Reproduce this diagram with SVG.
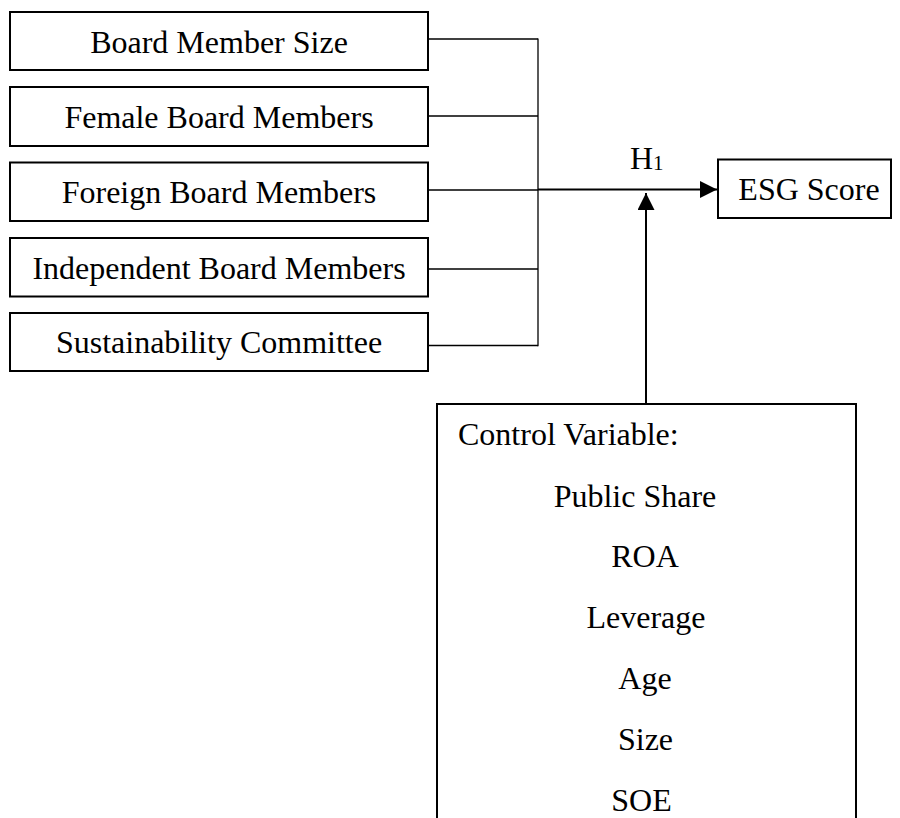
<svg xmlns="http://www.w3.org/2000/svg" width="900" height="818" viewBox="0 0 900 818">
<style>
  .box { fill: #ffffff; stroke: #000000; stroke-width: 2; }
  .thin { stroke: #000000; stroke-width: 1.3; fill: none; }
  .thick { stroke: #000000; stroke-width: 2; fill: none; }
</style>
<defs>
  <marker id="arrow" markerWidth="8.5" markerHeight="8.5" refX="8.5" refY="4.25" orient="auto" markerUnits="strokeWidth">
    <path d="M0,0 L8.5,4.25 L0,8.5 Z" fill="#000000"/>
  </marker>
</defs>
<rect width="900" height="818" fill="#ffffff"/>

<g id="connectors">
  <line class="thin" x1="428" y1="39" x2="538" y2="39"/>
  <line class="thin" x1="428" y1="116" x2="538" y2="116"/>
  <line class="thin" x1="428" y1="190" x2="538" y2="190"/>
  <line class="thin" x1="428" y1="269" x2="538" y2="269"/>
  <line class="thin" x1="428" y1="345.5" x2="538" y2="345.5"/>
  <line class="thin" x1="538" y1="38.4" x2="538" y2="346.2"/>
  <line class="thick" x1="538" y1="189.5" x2="717" y2="189.5" marker-end="url(#arrow)"/>
  <line class="thick" x1="646" y1="404" x2="646" y2="193" marker-end="url(#arrow)"/>
  <text x="630" y="169" font-family="Liberation Serif" font-size="32" style="font-family:'Liberation Serif',serif">H<tspan font-size="21" dy="1">1</tspan></text>
</g>

<g id="board-member-size">
  <rect class="box" x="10" y="12" width="418" height="58"/>
  <text x="219" y="52.5" text-anchor="middle" font-family="Liberation Serif" font-size="32" style="font-family:'Liberation Serif',serif">Board Member Size</text>
</g>
<g id="female-board-members">
  <rect class="box" x="10" y="87" width="418" height="59"/>
  <text x="219" y="127.5" text-anchor="middle" font-family="Liberation Serif" font-size="32" style="font-family:'Liberation Serif',serif">Female Board Members</text>
</g>
<g id="foreign-board-members">
  <rect class="box" x="10" y="162.5" width="418" height="58.5"/>
  <text x="219" y="203" text-anchor="middle" font-family="Liberation Serif" font-size="32" style="font-family:'Liberation Serif',serif">Foreign Board Members</text>
</g>
<g id="independent-board-members">
  <rect class="box" x="10" y="238" width="418" height="58.5"/>
  <text x="219" y="278.5" text-anchor="middle" font-family="Liberation Serif" font-size="32" style="font-family:'Liberation Serif',serif">Independent Board Members</text>
</g>
<g id="sustainability-committee">
  <rect class="box" x="10" y="313" width="418" height="58"/>
  <text x="219" y="353" text-anchor="middle" font-family="Liberation Serif" font-size="32" style="font-family:'Liberation Serif',serif">Sustainability Committee</text>
</g>

<g id="esg-score">
  <rect class="box" x="718" y="159.5" width="173" height="58.5"/>
  <text x="809" y="200" text-anchor="middle" font-family="Liberation Serif" font-size="32" style="font-family:'Liberation Serif',serif">ESG Score</text>
</g>

<g id="control-variable">
  <rect class="box" x="437" y="404" width="419" height="430"/>
  <text x="458" y="445" font-family="Liberation Serif" font-size="32" style="font-family:'Liberation Serif',serif">Control Variable:</text>
  <text x="635" y="506.5" text-anchor="middle" font-family="Liberation Serif" font-size="32" style="font-family:'Liberation Serif',serif">Public Share</text>
  <text x="645" y="567" text-anchor="middle" font-family="Liberation Serif" font-size="32" style="font-family:'Liberation Serif',serif">ROA</text>
  <text x="646" y="628" text-anchor="middle" font-family="Liberation Serif" font-size="32" style="font-family:'Liberation Serif',serif">Leverage</text>
  <text x="645" y="689" text-anchor="middle" font-family="Liberation Serif" font-size="32" style="font-family:'Liberation Serif',serif">Age</text>
  <text x="645.5" y="750" text-anchor="middle" font-family="Liberation Serif" font-size="32" style="font-family:'Liberation Serif',serif">Size</text>
  <text x="641.5" y="811" text-anchor="middle" font-family="Liberation Serif" font-size="32" style="font-family:'Liberation Serif',serif">SOE</text>
</g>
</svg>
